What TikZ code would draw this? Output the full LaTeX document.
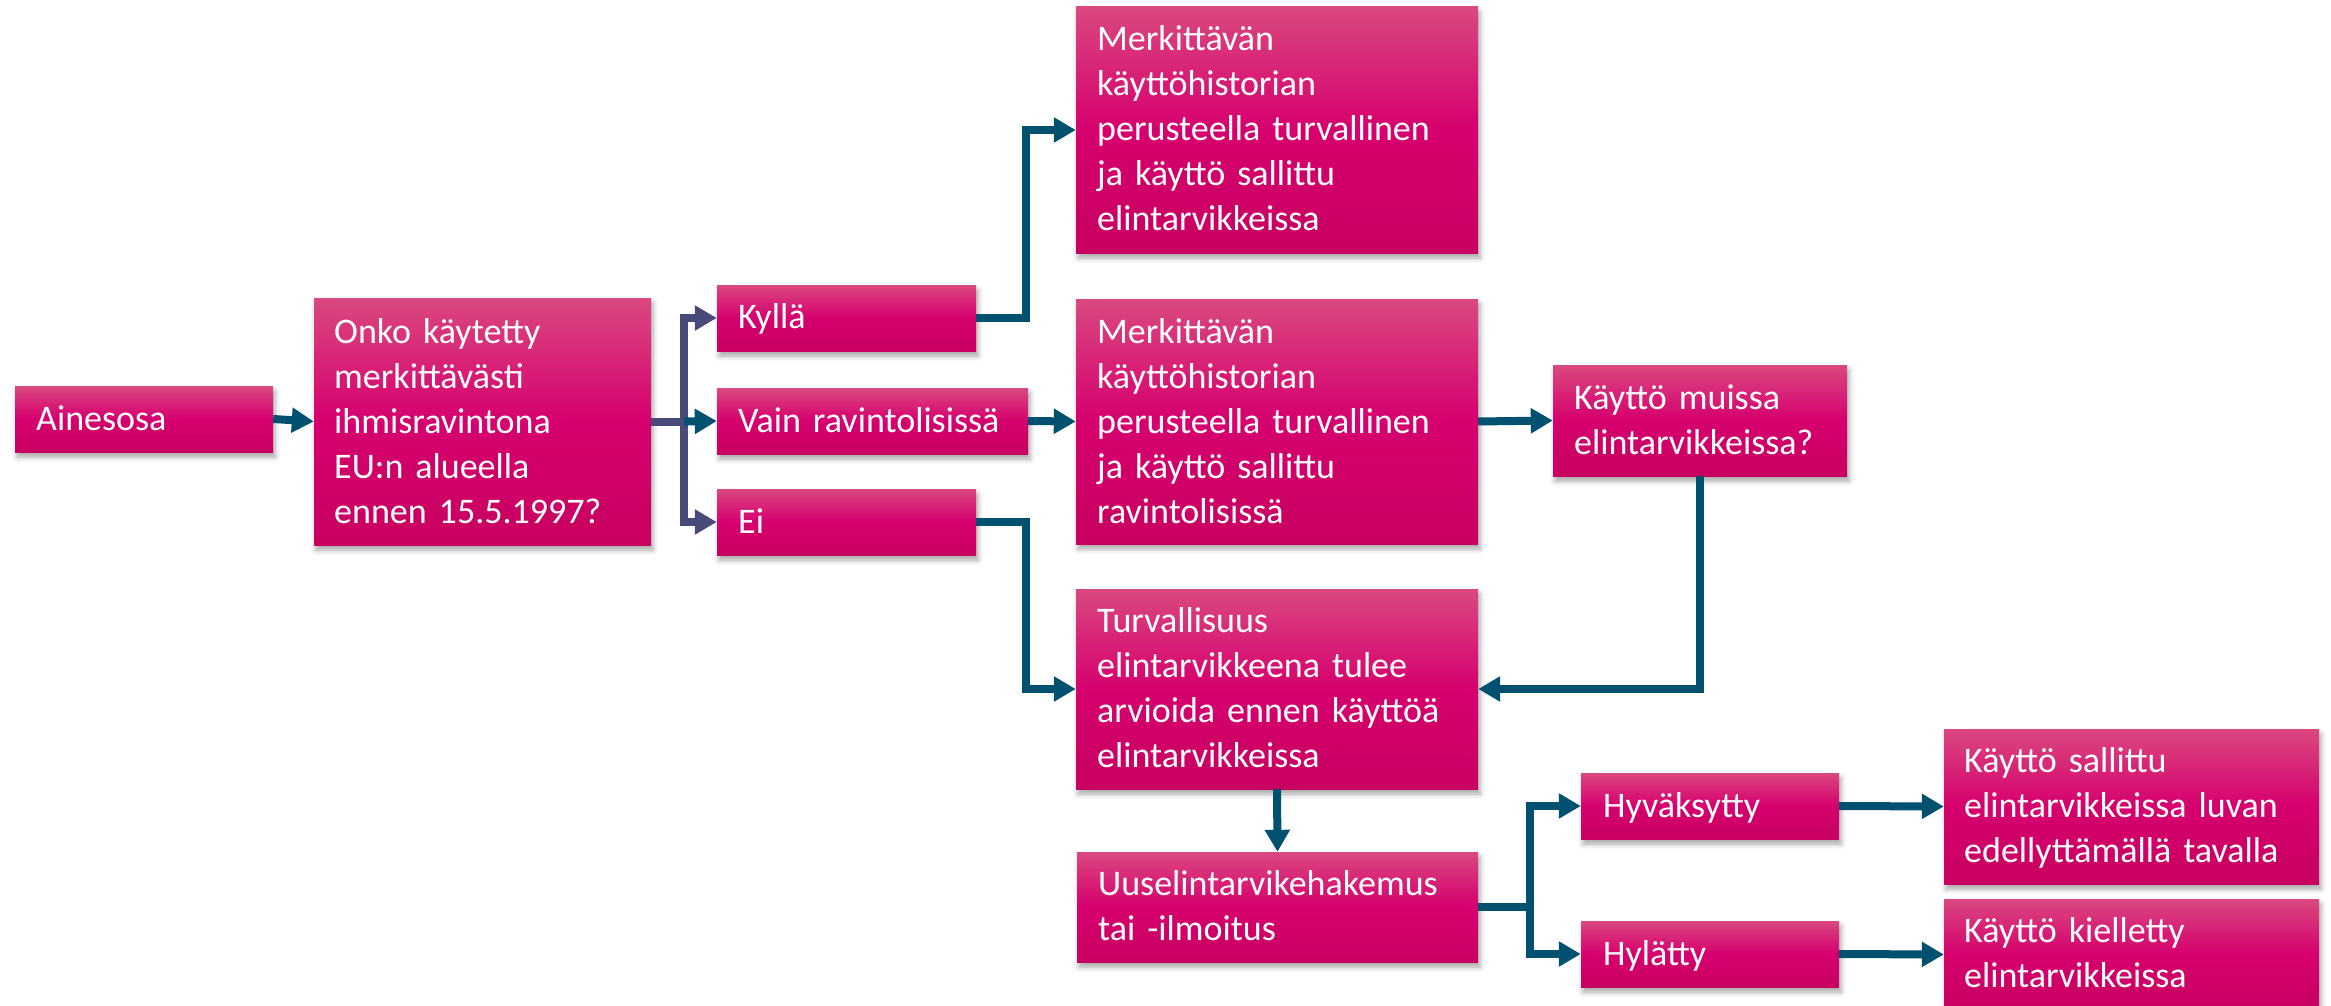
\documentclass[tikz,border=0pt]{standalone}
\usepackage{fontspec}
\setmainfont{Carlito}
\usetikzlibrary{arrows.meta,shadows.blur}
\definecolor{boxtop}{RGB}{218,72,128}
\definecolor{boxmid}{RGB}{214,0,110}
\definecolor{boxbot}{RGB}{200,0,96}
\definecolor{arrowteal}{RGB}{0,80,112}
\definecolor{arrowpurple}{RGB}{74,74,122}
\tikzset{
  flowbox/.style={rectangle, inner sep=0pt, draw=none,
    top color=boxtop, bottom color=boxbot, middle color=boxmid,
    blur shadow={shadow xshift=2pt, shadow yshift=-5pt, shadow blur radius=5pt, shadow opacity=35}},
  boxtext/.style={anchor=base west, inner sep=0pt, text=white, align=left,
    font=\fontsize{36}{45}\selectfont, text width=#1},
  boxtext/.default=420pt,
  tline/.style={draw=arrowteal, line width=8pt},
  pline/.style={draw=arrowpurple, line width=8pt},
  arrowed/.style={-{Triangle[length=22pt,width=24pt]}},
}
\begin{document}
\begin{tikzpicture}[x=1pt,y=-1pt]
\useasboundingbox (0,0) rectangle (2331,1006);
% boxes
\node[flowbox, minimum width=258pt, minimum height=66pt] (ain) at (144,419) {};
\node[flowbox, minimum width=337pt, minimum height=247pt] (q) at (482.5,421.5) {};
\node[flowbox, minimum width=259pt, minimum height=66pt] (kylla) at (846.5,318) {};
\node[flowbox, minimum width=311pt, minimum height=66pt] (vain) at (872.5,421) {};
\node[flowbox, minimum width=259pt, minimum height=66pt] (ei) at (846.5,522) {};
\node[flowbox, minimum width=402pt, minimum height=246pt] (top) at (1277,130) {};
\node[flowbox, minimum width=402pt, minimum height=245pt] (m2) at (1277,421.5) {};
\node[flowbox, minimum width=294pt, minimum height=111pt] (muissa) at (1700,420.5) {};
\node[flowbox, minimum width=402pt, minimum height=200pt] (turv) at (1277,689) {};
\node[flowbox, minimum width=401pt, minimum height=110pt] (uusel) at (1277.5,907) {};
\node[flowbox, minimum width=258pt, minimum height=66pt] (hyv) at (1710,806) {};
\node[flowbox, minimum width=258pt, minimum height=66pt] (hyl) at (1710,954) {};
\node[flowbox, minimum width=375pt, minimum height=155pt] (sall) at (2131.5,806.5) {};
\node[flowbox, minimum width=375pt, minimum height=111pt] (kiel) at (2131.5,954.5) {};
% texts
\node[boxtext] (ain-t) at (36,430) {Ainesosa};
\node[boxtext] (q-t) at (334,343) {Onko käytetty\\merkittävästi\\ihmisravintona\\EU:n alueella\\ennen 15.5.1997?};
\node[boxtext] (kylla-t) at (738,328) {Kyllä};
\node[boxtext] (vain-t) at (738,432) {Vain ravintolisissä};
\node[boxtext] (ei-t) at (738,533) {Ei};
\node[boxtext] (top-t) at (1097,51) {Merkittävän\\käyttöhistorian\\perusteella turvallinen\\ja käyttö sallittu\\elintarvikkeissa};
\node[boxtext] (m2-t) at (1097,343) {Merkittävän\\käyttöhistorian\\perusteella turvallinen\\ja käyttö sallittu\\ravintolisissä};
\node[boxtext] (muissa-t) at (1574,409) {Käyttö muissa\\elintarvikkeissa?};
\node[boxtext] (turv-t) at (1097,632) {Turvallisuus\\elintarvikkeena tulee\\arvioida ennen käyttöä\\elintarvikkeissa};
\node[boxtext] (uusel-t) at (1098,895) {Uuselintarvikehakemus\\tai -ilmoitus};
\node[boxtext] (hyv-t) at (1603,817) {Hyväksytty};
\node[boxtext] (hyl-t) at (1603,965) {Hylätty};
\node[boxtext] (sall-t) at (1964,772) {Käyttö sallittu\\elintarvikkeissa luvan\\edellyttämällä tavalla};
\node[boxtext] (kiel-t) at (1964,942) {Käyttö kielletty\\elintarvikkeissa};
% connectors
\coordinate (fork1) at (684,421.5);
\coordinate (fork2) at (1530,907);
\draw[tline,arrowed] (ain.east) -- (q.west);
\draw[pline] (q.east) -- (fork1);
\draw[pline,arrowed] (fork1) |- (kylla.west);
\draw[pline,arrowed] (fork1) |- (ei.west);
\draw[tline,arrowed] (fork1) -- (vain.west);
\draw[tline,arrowed] (kylla.east) -- ++(50,0) |- (top.west);
\draw[tline,arrowed] (vain.east) -- (m2.west);
\draw[tline,arrowed] (m2.east) -- (muissa.west);
\draw[tline,arrowed] (muissa.south) |- (turv.east);
\draw[tline,arrowed] (ei.east) -- ++(50,0) |- (turv.west);
\draw[tline,arrowed] (turv.south) -- (uusel.north);
\draw[tline] (uusel.east) -- (fork2);
\draw[tline,arrowed] (fork2) |- (hyv.west);
\draw[tline,arrowed] (fork2) |- (hyl.west);
\draw[tline,arrowed] (hyv.east) -- (sall.west);
\draw[tline,arrowed] (hyl.east) -- (kiel.west);
\end{tikzpicture}
\end{document}
